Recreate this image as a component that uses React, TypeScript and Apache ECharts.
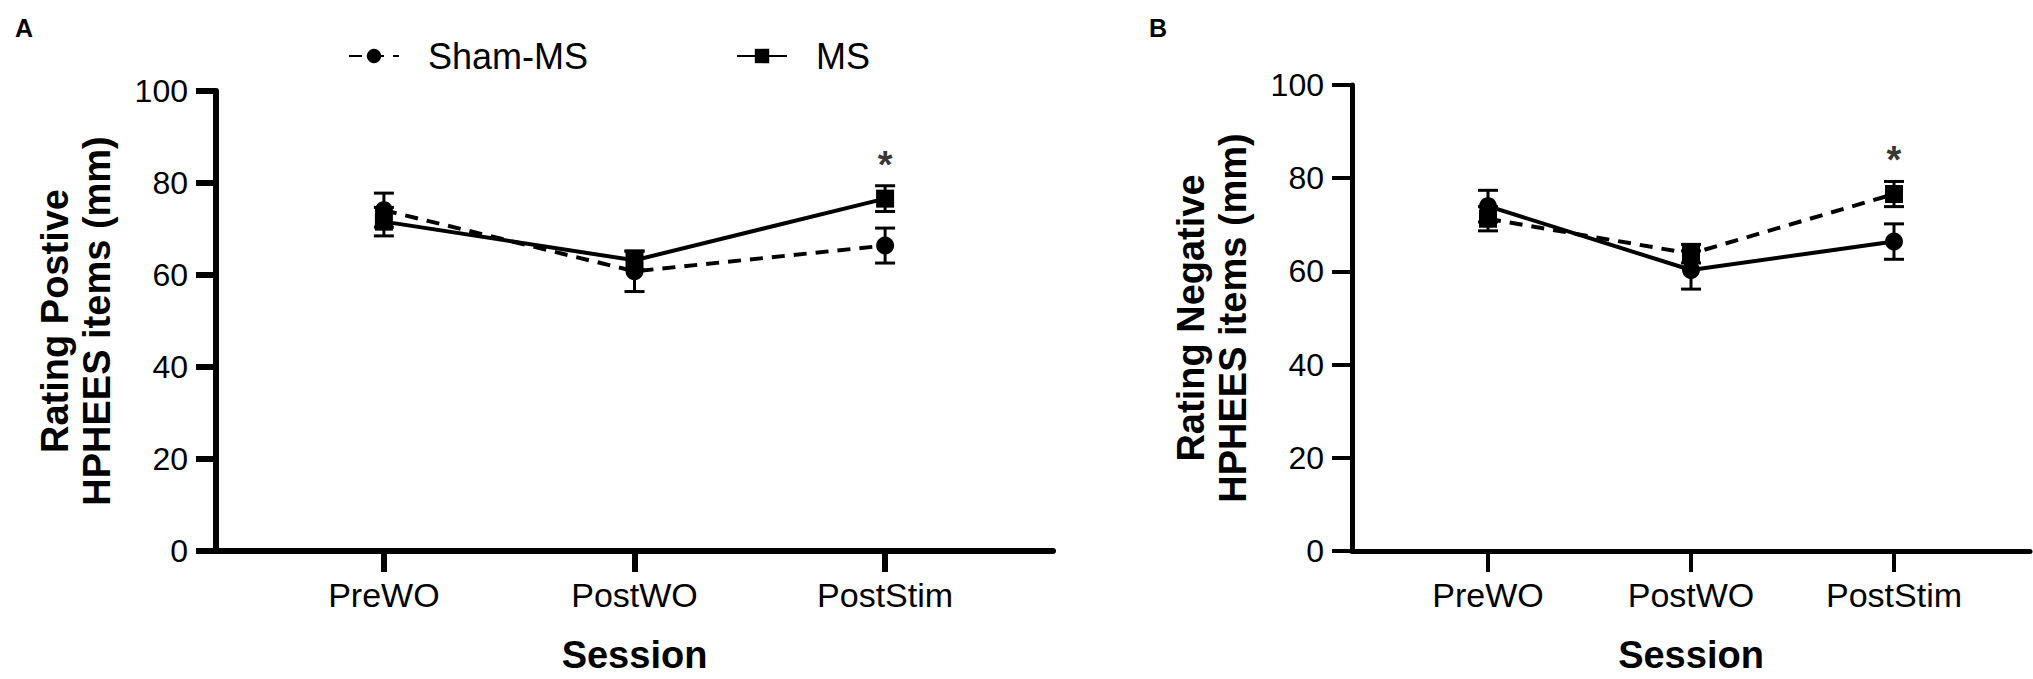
import React, { useEffect, useRef } from "react";
import * as echarts from "echarts";

const categories = ["PreWO", "PostWO", "PostStim"];

// Panel A: positive items
const posShamMean = [74.1, 60.8, 66.4];
const posShamSem = [3.7, 4.4, 3.8];
const posMsMean = [71.6, 63.2, 76.6];
const posMsSem = [3.1, 2.0, 2.8];

// Panel B: negative items
const negShamMean = [74.0, 60.3, 66.4];
const negShamSem = [3.4, 4.1, 3.8];
const negMsMean = [71.3, 63.8, 76.6];
const negMsSem = [2.6, 2.0, 2.7];

const starPos = [2, 84];
const yTicks = [0, 20, 40, 60, 80, 100];

const FONT = "'Liberation Sans', Arial, Helvetica, sans-serif";

function pts(vals: number[]) {
  return vals.map((v, i) => [i, v]);
}
function errData(mean: number[], sem: number[]) {
  return mean.map((m, i) => [i, m - sem[i], m + sem[i]]);
}

function errorSeries(mean: number[], sem: number[], idx: number, lw: number) {
  return {
    type: "custom",
    xAxisIndex: idx,
    yAxisIndex: idx,
    z: 1,
    silent: true,
    encode: { x: 0, y: [1, 2] },
    data: errData(mean, sem),
    renderItem: (params: any, api: any) => {
      const x = api.value(0);
      const lo = api.coord([x, api.value(1)]);
      const hi = api.coord([x, api.value(2)]);
      const w = 10;
      const st = { stroke: "#000", lineWidth: lw };
      return {
        type: "group",
        children: [
          { type: "line", shape: { x1: hi[0], y1: hi[1], x2: lo[0], y2: lo[1] }, style: st },
          { type: "line", shape: { x1: hi[0] - w, y1: hi[1], x2: hi[0] + w, y2: hi[1] }, style: st },
          { type: "line", shape: { x1: lo[0] - w, y1: lo[1], x2: lo[0] + w, y2: lo[1] }, style: st },
        ],
      };
    },
  };
}

function lineSeries(name: string, vals: number[], idx: number, symbol: string, dashed: boolean) {
  return {
    type: "line",
    name,
    xAxisIndex: idx,
    yAxisIndex: idx,
    z: 3,
    data: pts(vals),
    symbol,
    symbolSize: 18,
    itemStyle: { color: "#000" },
    lineStyle: { color: "#000", width: 4, type: dashed ? [13, 9] : "solid" },
  };
}

function starSeries(idx: number) {
  return {
    type: "scatter",
    xAxisIndex: idx,
    yAxisIndex: idx,
    symbolSize: 0,
    silent: true,
    data: [starPos],
    label: {
      show: true,
      position: "inside",
      formatter: "*",
      fontSize: 38,
      fontWeight: "bold",
      fontFamily: FONT,
      color: "#000",
    },
  };
}

function xAxis(idx: number, lw: number, tw: number) {
  return {
    gridIndex: idx,
    type: "value",
    min: -0.67,
    max: 2.67,
    splitLine: { show: false },
    axisLine: { show: true, onZero: false, lineStyle: { color: "#000", width: lw } },
    axisTick: { show: true, customValues: [0, 1, 2], length: 21, lineStyle: { color: "#000", width: tw } },
    axisLabel: {
      customValues: [0, 1, 2],
      formatter: (v: number) => categories[Math.round(v)],
      fontSize: 34,
      fontFamily: FONT,
      color: "#000",
      margin: 27,
    },
    name: "Session",
    nameLocation: "middle",
    nameGap: 85,
    nameTextStyle: { fontSize: 38, fontWeight: "bold", fontFamily: FONT, color: "#000" },
  };
}

function yAxis(idx: number, lw: number, tw: number, title: string) {
  return {
    gridIndex: idx,
    type: "value",
    min: yTicks[0],
    max: yTicks[yTicks.length - 1],
    interval: 20,
    splitLine: { show: false },
    axisLine: { show: true, onZero: false, lineStyle: { color: "#000", width: lw } },
    axisTick: { show: true, length: 20, lineStyle: { color: "#000", width: tw } },
    axisLabel: { fontSize: 32, fontFamily: FONT, color: "#000", margin: 28 },
    name: title,
    nameLocation: "middle",
    nameGap: 98,
    nameTextStyle: { fontSize: 38, fontWeight: "bold", fontFamily: FONT, color: "#000", lineHeight: 42 },
  };
}

export default function App() {
  const ref = useRef<HTMLDivElement>(null);
  useEffect(() => {
    if (!ref.current) return;
    const chart = echarts.init(ref.current, null, { renderer: "svg" });
    chart.setOption({
      animation: false,
      backgroundColor: "#fff",
      grid: [
        { left: 216, top: 91, width: 837, height: 464 },
        { left: 1352, top: 85, width: 678, height: 470 },
      ],
      legend: {
        left: 343,
        top: 33,
        itemWidth: 50,
        itemHeight: 18,
        itemGap: 148,
        data: ["Sham-MS", "MS"],
        textStyle: { fontSize: 36, fontFamily: FONT, color: "#000", padding: [0, 0, 0, 24] },
      },
      xAxis: [xAxis(0, 6, 6), xAxis(1, 5, 4)],
      yAxis: [
        yAxis(0, 6, 6, "Rating Postive\nHPHEES items (mm)"),
        yAxis(1, 5, 4, "Rating Negative\nHPHEES items (mm)"),
      ],
      graphic: [
        { type: "text", left: 15, top: 15, style: { text: "A", font: `bold 25px ${FONT}`, fill: "#000" } },
        { type: "text", left: 1149, top: 15, style: { text: "B", font: `bold 25px ${FONT}`, fill: "#000" } },
      ],
      series: [
        errorSeries(posShamMean, posShamSem, 0, 3),
        errorSeries(posMsMean, posMsSem, 0, 3),
        lineSeries("Sham-MS", posShamMean, 0, "circle", true),
        lineSeries("MS", posMsMean, 0, "rect", false),
        starSeries(0),
        errorSeries(negShamMean, negShamSem, 1, 3),
        errorSeries(negMsMean, negMsSem, 1, 3),
        lineSeries("Sham-MS", negShamMean, 1, "circle", false),
        lineSeries("MS", negMsMean, 1, "rect", true),
        starSeries(1),
      ],
    });
    return () => chart.dispose();
  }, []);
  return (
    <div
      ref={ref}
      style={{ position: "absolute", left: 0, top: 0, width: 2033, height: 679, background: "#fff" }}
    />
  );
}
